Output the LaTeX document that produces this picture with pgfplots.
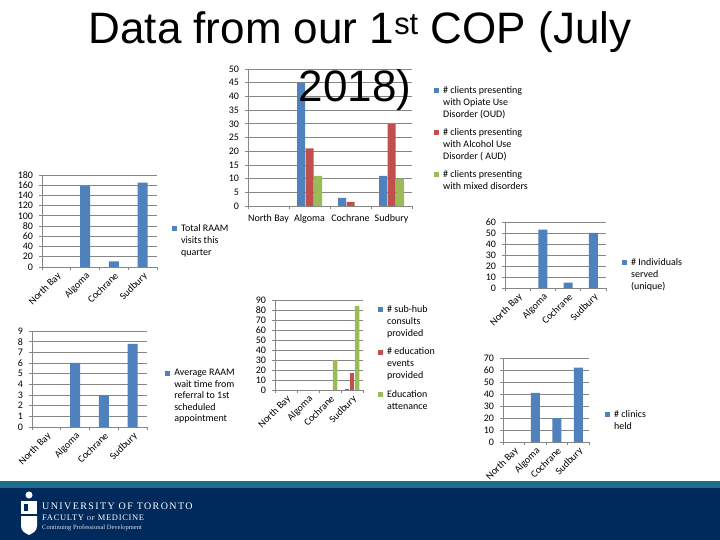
\documentclass[border=0pt]{standalone}
\usepackage{fontspec}
\setmainfont{Carlito}
\newfontfamily\titlefont{Liberation Sans}
\newfontfamily\logofont{Liberation Serif}
\usepackage{pgfplots}
\pgfplotsset{compat=1.18}
\definecolor{xlblue}{HTML}{4F81BD}
\definecolor{xlred}{HTML}{C0504D}
\definecolor{xlgreen}{HTML}{9BBB59}
\definecolor{gridgray}{HTML}{868686}
\definecolor{utnavy}{HTML}{002A5C}
\definecolor{utteal}{HTML}{1C6E8E}
\pgfplotsset{
  xlchart/.style={
    scale only axis,
    axis x line*=bottom, axis y line*=left,
    axis line style={draw=gridgray, line width=0.8pt, -},
    ymajorgrids, major grid style={draw=gridgray, line width=0.8pt},
    ymin=0, xmin=-0.5, xmax=3.5,
    xtick={0,1,2,3},
    xticklabels={North Bay,Algoma,Cochrane,Sudbury},
    minor xtick={-0.5,0.5,1.5,2.5,3.5},
    tick align=outside,
    major tick length=3pt, minor tick length=3pt,
    major x tick style={draw=none},
    minor x tick style={draw=gridgray, line width=0.8pt},
    ytick style={draw=gridgray, line width=0.8pt},
    tick label style={font=\fontsize{10}{12}\selectfont},
    yticklabel style={xshift=-2.5pt},
    /pgf/number format/assume math mode=true,
    legend style={draw=none, fill=none, inner sep=0pt, anchor=north west,
      font=\fontsize{10}{12}\selectfont, yshift=-2pt,
      nodes={inner sep=0pt},
      cells={anchor=north west, align=left}, row sep=9.5pt},
  },
  rotlabels/.style={xticklabel style={rotate=45, anchor=north east, inner sep=1pt}},
  sqleg/.style={legend image code/.code={\path (0pt,0pt) (9pt,0pt); \fill[##1] (0pt,-7pt) rectangle (5pt,-2pt);}},
}
\begin{document}
\begin{tikzpicture}
\fill[white] (0pt,0pt) rectangle (720pt,-540pt);
\useasboundingbox (0pt,0pt) rectangle (720pt,-540pt);

% Chart 1: Total RAAM visits
\begin{axis}[xlchart, rotlabels, at={(42pt,-267pt)}, anchor=south west,
  width=115pt, height=92pt, ymax=180, ytick distance=20,
  ybar, bar width=10pt, legend style={at={(1.13,0.489)}}]
\addplot[fill=xlblue, draw=none, sqleg] coordinates {(1,158) (2,11) (3,165)};
\addlegendentry{Total RAAM\\visits this\\quarter}
\end{axis}

% Chart 2: Average wait time
\begin{axis}[xlchart, rotlabels, at={(32pt,-427pt)}, anchor=south west,
  width=115pt, height=96pt, ymax=9, ytick distance=1,
  ybar, bar width=10pt, legend style={at={(1.157,0.625)}, font=\fontsize{10}{11.5}\selectfont}]
\addplot[fill=xlblue, draw=none, sqleg] coordinates {(1,6) (2,3) (3,7.8)};
\addlegendentry{Average RAAM\\wait time from\\referral to 1st\\scheduled\\appointment}
\end{axis}

% Chart 3: clients presenting
\begin{axis}[xlchart, at={(248pt,-206pt)}, anchor=south west,
  width=164pt, height=137pt, ymax=50, ytick distance=5,
  xticklabel style={yshift=-2pt},
  ybar=0.5pt, bar width=8pt, legend style={at={(1.134,0.891)}}]
\addplot[fill=xlblue, draw=none, sqleg] coordinates {(1,45) (2,3) (3,11)};
\addlegendentry{\# clients presenting\\with Opiate Use\\Disorder (OUD)}
\addplot[fill=xlred, draw=none, sqleg] coordinates {(1,21) (2,1.5) (3,30)};
\addlegendentry{\# clients presenting\\with Alcohol Use\\Disorder ( AUD)}
\addplot[fill=xlgreen, draw=none, sqleg] coordinates {(1,11) (3,10)};
\addlegendentry{\# clients presenting\\with mixed disorders}
\end{axis}

% Chart 4: sub-hub / education
\begin{axis}[xlchart, rotlabels, at={(275pt,-390pt)}, anchor=south west,
  width=88pt, height=90pt, ymax=90, ytick distance=10,
  ybar=0.5pt, bar width=4.5pt, legend style={at={(1.17,0.967)}, row sep=10pt}]
\addplot[fill=xlblue, draw=none, sqleg] coordinates {(3,1)};
\addlegendentry{\# sub-hub\\consults\\provided}
\addplot[fill=xlred, draw=none, sqleg] coordinates {(3,17)};
\addlegendentry{\# education\\events\\provided}
\addplot[fill=xlgreen, draw=none, sqleg] coordinates {(2,30) (3,84)};
\addlegendentry{Education\\attenance}
\end{axis}

% Chart 5: individuals served
\begin{axis}[xlchart, rotlabels, at={(505pt,-288pt)}, anchor=south west,
  width=101pt, height=66pt, ymax=60, ytick distance=10,
  ybar, bar width=9pt, legend style={at={(1.158,0.485)}}]
\addplot[fill=xlblue, draw=none, sqleg] coordinates {(1,53) (2,5) (3,50)};
\addlegendentry{\# Individuals\\served\\(unique)}
\end{axis}

% Chart 6: clinics held
\begin{axis}[xlchart, rotlabels, at={(503pt,-442pt)}, anchor=south west,
  width=86pt, height=84pt, ymax=70, ytick distance=10,
  ybar, bar width=9pt, legend style={at={(1.186,0.405)}}]
\addplot[fill=xlblue, draw=none, sqleg] coordinates {(1,41) (2,20) (3,62)};
\addlegendentry{\# clinics\\held}
\end{axis}

% Title
\node[anchor=base, inner sep=0pt, font=\titlefont\fontsize{44}{53}\selectfont] at (360pt,-44pt) {Data from our 1\textsuperscript{st} COP (July};
\node[anchor=base, inner sep=0pt, font=\titlefont\fontsize{44}{53}\selectfont] at (355pt,-102pt) {2018)};

% Footer
\fill[utteal] (0pt,-481pt) rectangle (720pt,-488pt);
\fill[utnavy] (0pt,-488pt) rectangle (720pt,-540pt);
\fill[white] (29pt,-495pt) circle (3.5pt);
\fill[white] (21pt,-501pt) rectangle (37pt,-514pt);
\fill[utnavy] (24pt,-504pt) rectangle (28pt,-511pt);
\fill[white] (21pt,-516pt) -- (37pt,-516pt) -- (37pt,-526pt) .. controls (37pt,-531pt) and (33pt,-533pt) .. (29pt,-535pt) .. controls (25pt,-533pt) and (21pt,-531pt) .. (21pt,-526pt) -- cycle;
\node[anchor=west, inner sep=0pt, text=white, font=\logofont\fontsize{10}{12}\selectfont\addfontfeature{LetterSpace=14}] at (42pt,-506pt) {UNIVERSITY OF TORONTO};
\node[anchor=west, inner sep=0pt, text=white, font=\logofont\fontsize{8.5}{10}\selectfont\addfontfeature{LetterSpace=8}] at (42pt,-518pt) {FACULTY {\fontsize{6}{7}\selectfont OF} MEDICINE};
\node[anchor=west, inner sep=0pt, text=white!85!utnavy, font=\logofont\fontsize{6.5}{8}\selectfont] at (42pt,-528pt) {Continuing Professional Development};
\end{tikzpicture}
\end{document}
